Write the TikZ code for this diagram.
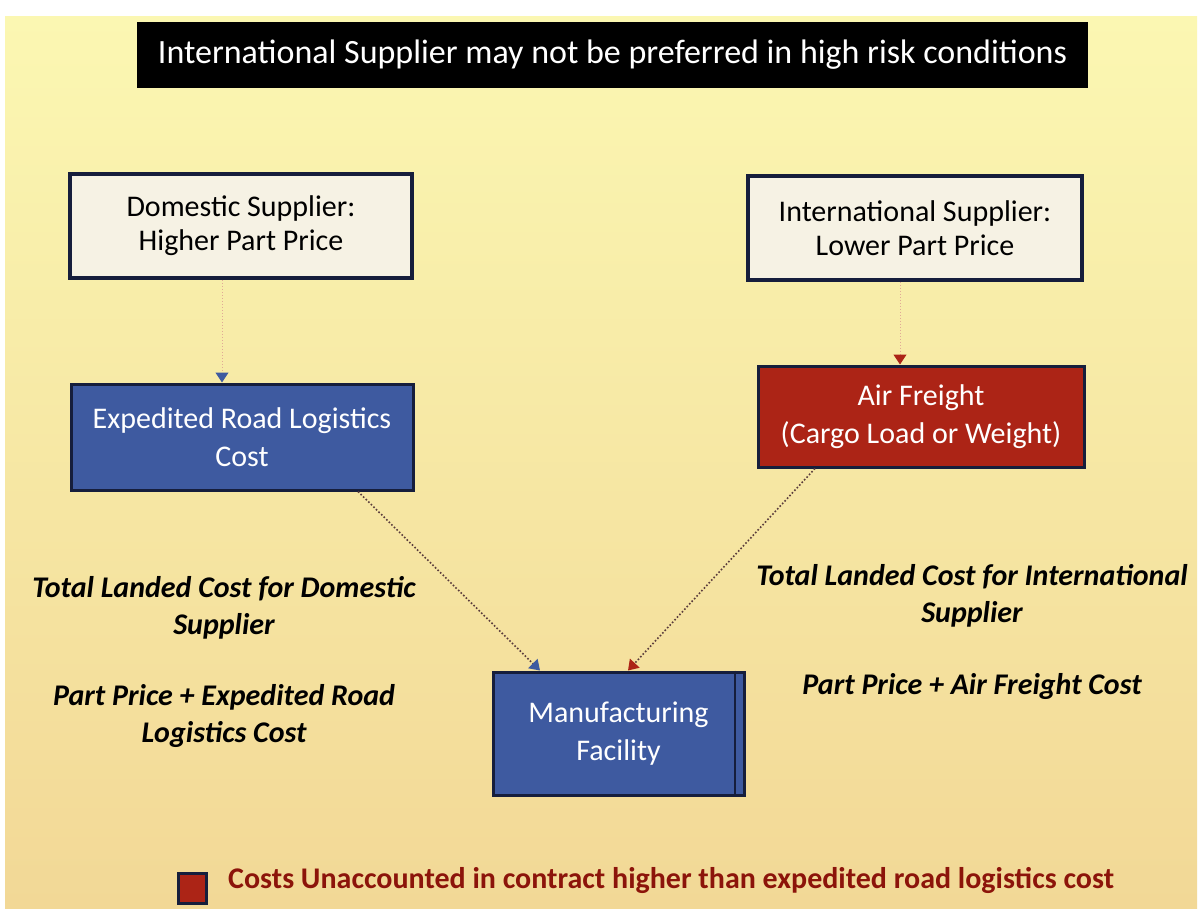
\documentclass[tikz,border=0pt]{standalone}
\usepackage{fontspec}
\setmainfont{Carlito}
\usetikzlibrary{arrows.meta}
\definecolor{bgtop}{RGB}{251,247,178}
\definecolor{bgbot}{RGB}{242,216,150}
\definecolor{navy}{RGB}{22,30,60}
\definecolor{boxblue}{RGB}{62,90,160}
\definecolor{boxred}{RGB}{172,36,22}
\definecolor{cream}{RGB}{246,242,228}
\definecolor{legred}{RGB}{140,20,10}
\tikzset{
  plainbox/.style={draw=navy, line width=3.5pt, fill=cream, text=black, align=center, font=\fontsize{30}{34}\selectfont, inner sep=0pt},
  bluebox/.style={draw=navy, line width=3pt, fill=boxblue, text=white, align=center, font=\fontsize{30}{38}\selectfont, inner sep=0pt},
  redbox/.style={draw=navy, line width=3pt, fill=boxred, text=white, align=center, font=\fontsize{30}{38}\selectfont, inner sep=0pt},
  note/.style={align=center, font=\bfseries\itshape\fontsize{30}{37}\selectfont, text=black, inner sep=0pt},
  vlink/.style={draw={rgb,255:red,225;green,170;blue,150}, line width=1pt, dotted},
  dlink/.style={draw={rgb,255:red,90;green,60;blue,60}, line width=1.6pt, dotted},
  bluetip/.style={-{Triangle[width=13pt,length=10pt,color=boxblue]}},
  redtip/.style={-{Triangle[width=13pt,length=10pt,color=boxred]}}
}
\begin{document}
\begin{tikzpicture}[x=1pt,y=-1pt]
\useasboundingbox (0,0) rectangle (1204,918);
\fill[white] (0,0) rectangle (1204,918);
\shade[top color=bgtop, bottom color=bgbot] (5,16) rectangle (1197,908);
% title
\node[fill=black, minimum width=951pt, minimum height=66pt, inner sep=0pt, text=white, font=\fontsize{34}{36}\selectfont] (title) at (612.5,55) {International Supplier may not be preferred in high risk conditions};
% supplier boxes
\node[plainbox, minimum width=342pt, minimum height=104pt] (dom) at (241,226) {Domestic Supplier:\\Higher Part Price};
\node[plainbox, minimum width=334pt, minimum height=104pt] (intl) at (915,228) {International Supplier:\\Lower Part Price};
% logistics boxes
\node[bluebox, minimum width=342pt, minimum height=106pt] (road) at (242,437) {Expedited Road Logistics\\Cost};
\node[redbox, minimum width=326pt, minimum height=101pt] (air) at (921,416.5) {Air Freight\\(Cargo Load or Weight)};
% manufacturing
\node[bluebox, minimum width=251pt, minimum height=123pt] (mfg) at (618.5,733.5) {Manufacturing\\Facility};
\draw[navy, line width=2pt] ([xshift=-11pt]mfg.north east) -- ([xshift=-11pt]mfg.south east);
% connectors
\draw[vlink, bluetip] (dom.south -| 222,0) -- (road.north -| 222,0);
\draw[vlink, redtip] (intl.south -| 900,0) -- (air.north -| 900,0);
\draw[dlink, bluetip] (road.south -| 358,0) -- (mfg.north -| 540,0);
\draw[dlink, redtip] (air.south -| 815,0) -- (mfg.north -| 628,0);
% notes
\node[note] (ltot) at (224,608) {Total Landed Cost for Domestic\\Supplier};
\node[note] (lsum) at (224,716) {Part Price + Expedited Road\\Logistics Cost};
\node[note] (rtot) at (972,596) {Total Landed Cost for International\\Supplier};
\node[note] (rsum) at (972,686) {Part Price + Air Freight Cost};
% legend
\node[draw=navy, line width=3pt, fill=boxred, minimum width=28pt, minimum height=30pt, inner sep=0pt] (legbox) at (192,888.5) {};
\node[anchor=west, text=legred, font=\bfseries\fontsize{30}{32}\selectfont, inner sep=0pt] (legtext) at (228,880) {Costs Unaccounted in contract higher than expedited road logistics cost};
\end{tikzpicture}
\end{document}
